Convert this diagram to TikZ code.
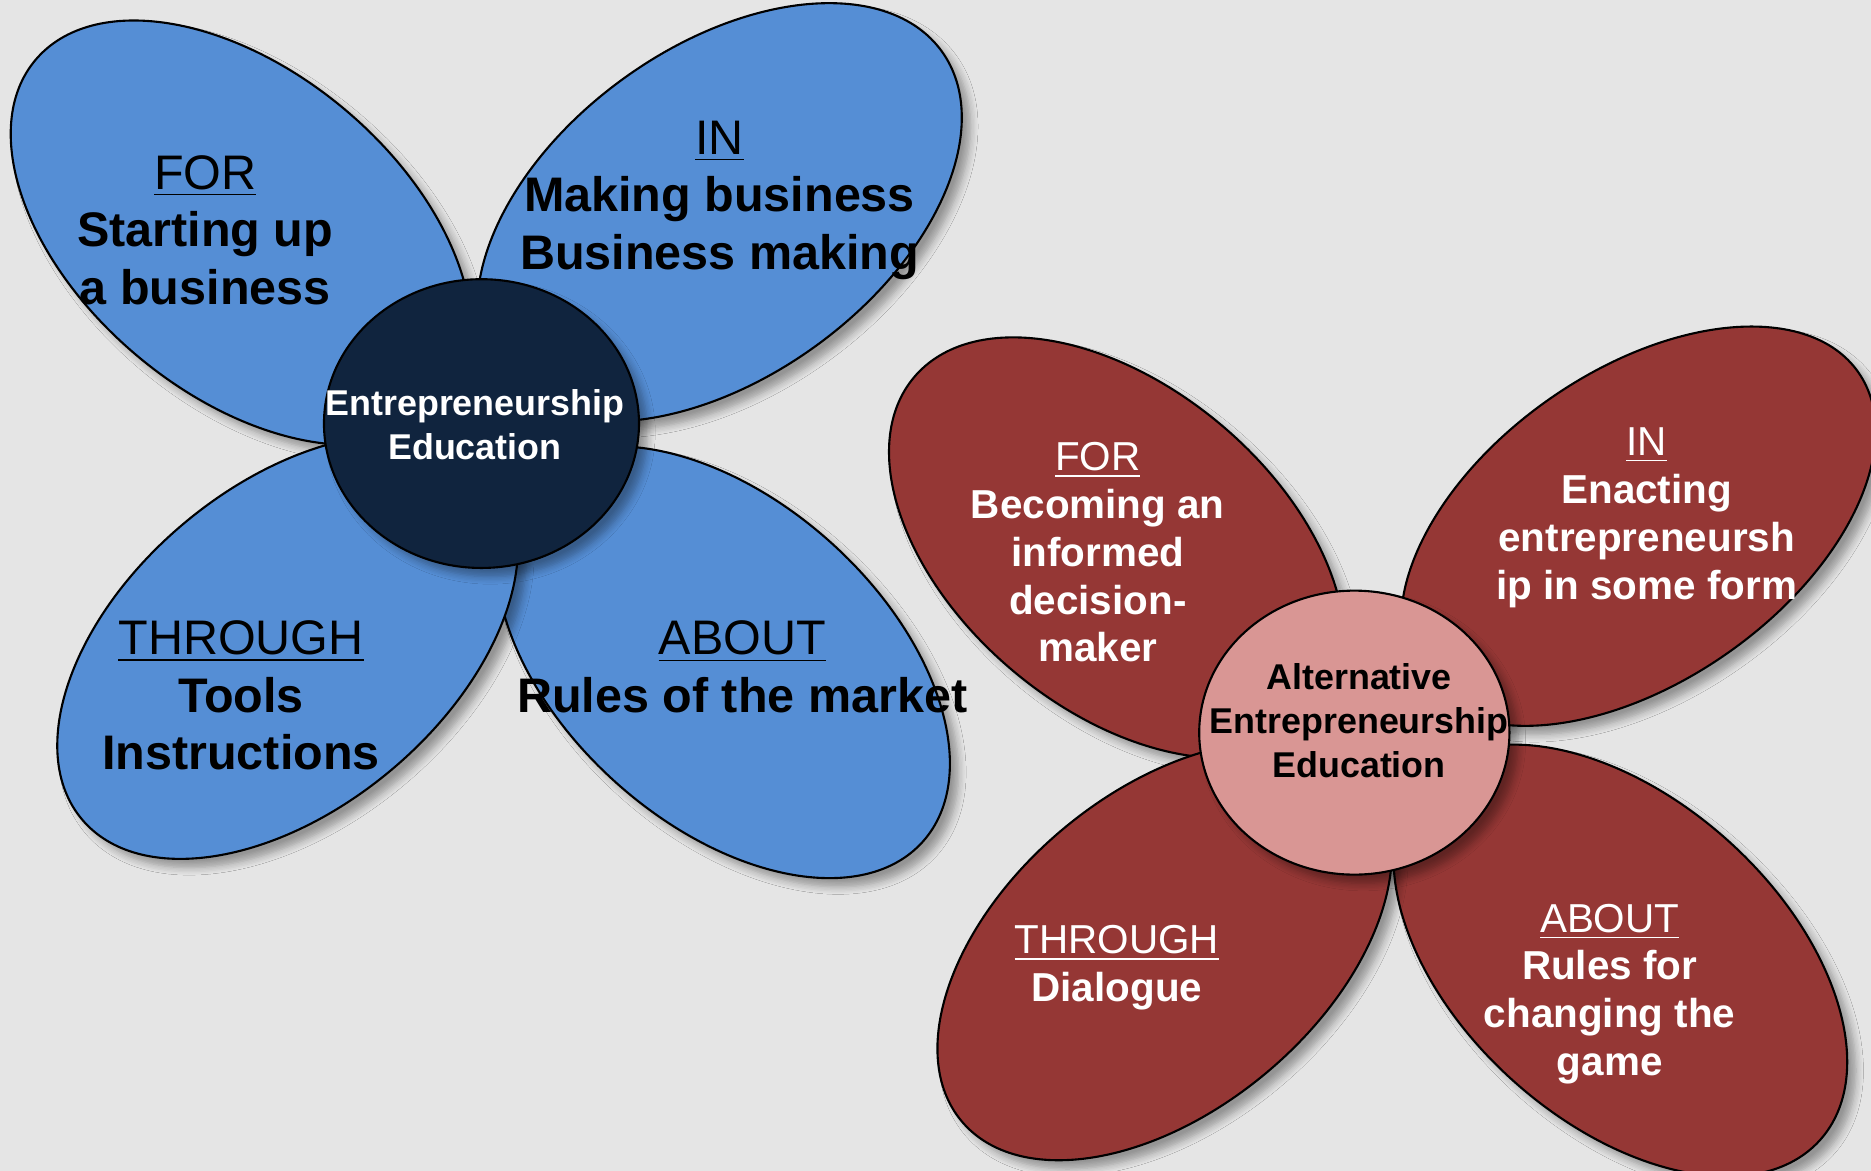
\documentclass[tikz,border=0pt]{standalone}
\usepackage{fontspec}
\setmainfont{Liberation Sans}
\usetikzlibrary{shadows.blur}

\definecolor{petalblue}{HTML}{558ED5}
\definecolor{hubnavy}{HTML}{10243E}
\definecolor{petalred}{HTML}{953735}
\definecolor{hubpink}{HTML}{D99694}
\definecolor{wall}{HTML}{E5E5E5}

\begin{document}
\begin{tikzpicture}[x=0.011933cm, y=0.011933cm,
  petal/.style={draw=black, line width=0.6pt,
    blur shadow={shadow xshift=2.5pt, shadow yshift=-2.5pt, shadow blur steps=6, shadow opacity=35}},
  bluepetal/.style={petal, fill=petalblue},
  redpetal/.style={petal, fill=petalred},
  bigtxt/.style={align=center, text=black, font=\fontsize{13.8}{16.4}\selectfont},
  smalltxt/.style={align=center, text=white, font=\fontsize{11.5}{13.6}\selectfont},
  hubtxt/.style={align=center, font=\bfseries\fontsize{10.2}{12.4}\selectfont}]
\useasboundingbox (0,0) rectangle (1568,981);
\fill[wall] (0,0) rectangle (1568,981);

% blue flower
\coordinate (bFor) at (202,786);
\coordinate (bIn) at (603,803);
\coordinate (bAbout) at (606,426);
\coordinate (bThrough) at (241,439);
\coordinate (bHub) at (403.5,626);
\draw[bluepetal, rotate around={-40:(bFor)}] (bFor) ellipse [x radius=225, y radius=135];
\draw[bluepetal, rotate around={36:(bIn)}] (bIn) ellipse [x radius=230, y radius=138];
\draw[bluepetal, rotate around={-42:(bAbout)}] (bAbout) ellipse [x radius=225, y radius=135];
\draw[bluepetal, rotate around={40:(bThrough)}] (bThrough) ellipse [x radius=225, y radius=135];
\draw[petal, fill=hubnavy] (bHub) ellipse [x radius=132, y radius=121];

\node[bigtxt] (bForTxt) at (172,788) {\underline{FOR}\\\textbf{Starting up}\\\textbf{a business}};
\node[bigtxt] (bInTxt) at (603,813) {\underline{IN}\\\textbf{Making business}\\\textbf{Business making}};
\node[bigtxt] (bAboutTxt) at (622,422) {\underline{ABOUT}\\\textbf{Rules of the market}};
\node[bigtxt] (bThroughTxt) at (202,398) {\underline{THROUGH}\\\textbf{Tools}\\\textbf{Instructions}};
\node[hubtxt, text=white] (bHubTxt) at (398,625) {Entrepreneurship\\Education};

% red flower
\coordinate (rFor) at (936,522);
\coordinate (rIn) at (1373,540);
\coordinate (rThrough) at (976,184);
\coordinate (rAbout) at (1358,176);
\coordinate (rHub) at (1135,367);
\draw[redpetal, rotate around={-40:(rFor)}] (rFor) ellipse [x radius=222, y radius=135];
\draw[redpetal, rotate around={35:(rIn)}] (rIn) ellipse [x radius=225, y radius=130];
\draw[redpetal, rotate around={-42:(rAbout)}] (rAbout) ellipse [x radius=225, y radius=135];
\draw[redpetal, rotate around={40:(rThrough)}] (rThrough) ellipse [x radius=222, y radius=133];
\draw[petal, fill=hubpink] (rHub) ellipse [x radius=130, y radius=119];

\node[smalltxt] (rForTxt) at (920,518) {\underline{FOR}\\\textbf{Becoming an}\\\textbf{informed}\\\textbf{decision-}\\\textbf{maker}};
\node[smalltxt] (rInTxt) at (1380,547) {\underline{IN}\\\textbf{Enacting}\\\textbf{entrepreneursh}\\\textbf{ip in some form}};
\node[smalltxt] (rThroughTxt) at (936,170) {\underline{THROUGH}\\\textbf{Dialogue}};
\node[smalltxt] (rAboutTxt) at (1349,148) {\underline{ABOUT}\\\textbf{Rules for}\\\textbf{changing the}\\\textbf{game}};
\node[hubtxt, text=black] (rHubTxt) at (1139,377) {Alternative\\Entrepreneurship\\Education};
\end{tikzpicture}
\end{document}
